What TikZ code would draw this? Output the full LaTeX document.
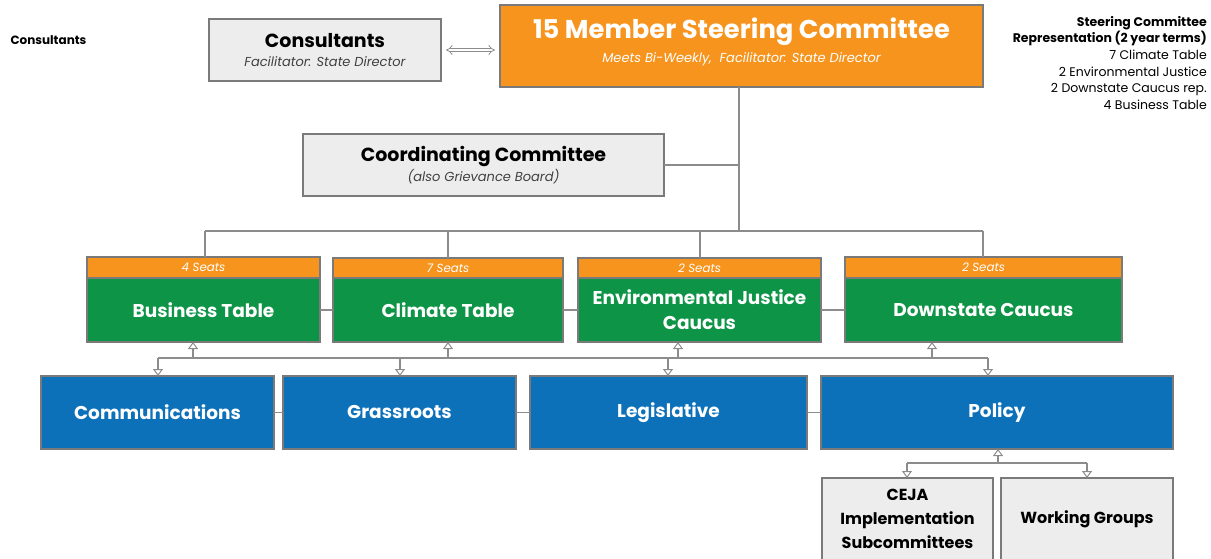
\documentclass[tikz,border=0pt]{standalone}
\usepackage{fontspec}
\setmainfont{Poppins}
\usetikzlibrary{arrows.meta}
\definecolor{orangeC}{HTML}{F7941D}
\definecolor{greenC}{HTML}{0E9446}
\definecolor{blueC}{HTML}{0D71BA}
\definecolor{greyF}{HTML}{EDEDED}
\definecolor{lineC}{HTML}{8C8C8C}
\definecolor{edgeC}{HTML}{7A7A7A}
\newcommand{\fs}[1]{\fontsize{#1pt}{\dimexpr #1pt*6/5\relax}\selectfont}

\begin{document}
\begin{tikzpicture}[x=1pt,y=-1pt,
  box/.style={draw=edgeC, line width=1.2pt, anchor=north west, inner sep=0pt,
              outer sep=0pt, align=center},
  greybox/.style={box, fill=greyF, text=black},
  orangebox/.style={box, fill=orangeC, text=white},
  greenbox/.style={box, fill=greenC, text=white, font=\bfseries\fs{18.5}},
  bluebox/.style={box, fill=blueC, text=white, font=\bfseries\fs{18.5}},
  link/.style={draw=lineC, line width=1.3pt},
  uptip/.style={link, -{Triangle[open, length=7pt, width=10pt, line width=1pt]}},
]
\useasboundingbox (0,0) rectangle (1211,559);
\clip (0,0) rectangle (1211,559);

% side notes
\node[anchor=west, font=\bfseries\fs{12}] (sidelabel) at (7,40) {Consultants};
\node[anchor=north east, align=right, font=\fontsize{12.5pt}{16.6pt}\selectfont, inner sep=0pt] (reps) at (1207,16)
  {\bfseries Steering Committee\\ \bfseries Representation (2 year terms)\\
   7 Climate Table\\ 2 Environmental Justice\\ 2 Downstate Caucus rep.\\ 4 Business Table};

% top tier
\node[greybox, minimum width=232, minimum height=62, font=\fs{19}] (cons) at (209,19)
  {{\bfseries Consultants}\\[-3pt]{\itshape\fs{13}\color{black!75}Facilitator: State Director}};
\node[orangebox, minimum width=483, minimum height=82] (steer) at (500,5) {};
\node[text=white, align=center, inner sep=0pt, font=\fs{25.8}] (steertxt) at (741.5,42)
  {\bfseries 15 Member Steering Committee\\[-7pt]{\itshape\fs{13}Meets Bi-Weekly,\ \ Facilitator: State Director}};
\draw[draw=lineC, line width=0.8pt, double=white, double distance=2.6pt,
      {Implies}-{Implies}, shorten <=5pt, shorten >=5pt] (cons.east) -- (cons.east -| steer.west);

\node[greybox, minimum width=361, minimum height=62, font=\fs{19}] (coord) at (303,134)
  {{\bfseries Coordinating Committee}\\[-2pt]{\itshape\fs{13}\color{black!75}(also Grievance Board)}};

% seat bars and tables
\tikzset{seat/.style={box, fill=orangeC, text=white, minimum height=21, font=\itshape\fs{11.8}}}
\node[seat, minimum width=233] (s1) at (87,257) {4 Seats};
\node[seat, minimum width=230] (s2) at (333,258) {7 Seats};
\node[seat, minimum width=243] (s3) at (578,258) {2 Seats};
\node[seat, minimum width=277] (s4) at (845,257) {2 Seats};

\node[greenbox, minimum width=233, minimum height=64] (bt) at (87,278) {Business Table};
\node[greenbox, minimum width=230, minimum height=64] (ct) at (333,278) {Climate Table};
\node[greenbox, minimum width=243, minimum height=64] (ej) at (578,278) {Environmental Justice\\[3pt]Caucus};
\node[greenbox, minimum width=277, minimum height=64] (dc) at (845,278) {Downstate Caucus};

% working committees
\node[bluebox, minimum width=233, minimum height=73] (comm) at (41,376) {Communications};
\node[bluebox, minimum width=233, minimum height=73] (grass) at (283,376) {Grassroots};
\node[bluebox, minimum width=277, minimum height=73] (legis) at (530,376) {Legislative};
\node[bluebox, minimum width=352, minimum height=73] (policy) at (821,376) {Policy};

% policy sub-groups
\node[greybox, minimum width=171, minimum height=82, font=\bfseries\fs{16}] (ceja) at (822,478)
  {CEJA\\[4.5pt]Implementation\\[4.5pt]Subcommittees};
\node[greybox, minimum width=172, minimum height=82, font=\bfseries\fs{16}] (wg) at (1001,478) {Working Groups};

% steering committee down to the bus
\coordinate (hub) at (739,231);
\draw[link] (steer.south -| hub) -- (hub);
\draw[link] (coord.east) -- (coord.east -| hub);
\coordinate (busL) at (205,231);
\coordinate (busR) at (983,231);
\draw[link] (busL) -- (busR);
\draw[link] (busL) -- (busL |- s1.north);
\draw[link] (448,231) -- (448,258) coordinate (s2top);
\draw[link] (700,231) -- (700,258) coordinate (s3top);
\draw[link] (busR) -- (busR |- s4.north);

% side links between tables and committees
\draw[link] (bt.east) -- (ct.west);
\draw[link] (ct.east) -- (ej.west);
\draw[link] (ej.east) -- (dc.west);
\draw[link] (comm.east) -- (grass.west);
\draw[link] (grass.east) -- (legis.west);
\draw[link] (legis.east) -- (policy.west);

% tables <-> committees bus
\coordinate (mbusL) at (158,358);
\coordinate (mbusR) at (988,358);
\draw[link] (mbusL) -- (mbusR);
\draw[uptip] (193,358) -- (193,342);
\draw[uptip] (448,358) -- (448,342);
\draw[uptip] (678,358) -- (678,342);
\draw[uptip] (932,358) -- (932,342);
\draw[uptip] (mbusL) -- (mbusL |- comm.north);
\draw[uptip] (400,358) -- (400,376);
\draw[uptip] (668,358) -- (668,376);
\draw[uptip] (mbusR) -- (mbusR |- policy.north);

% policy to its sub-groups
\coordinate (pbusL) at (907,463);
\coordinate (pbusR) at (1087,463);
\draw[link] (pbusL) -- (pbusR);
\draw[uptip] (998,463) -- (998,449);
\draw[uptip] (pbusL) -- (pbusL |- ceja.north);
\draw[uptip] (pbusR) -- (pbusR |- wg.north);
\end{tikzpicture}
\end{document}
